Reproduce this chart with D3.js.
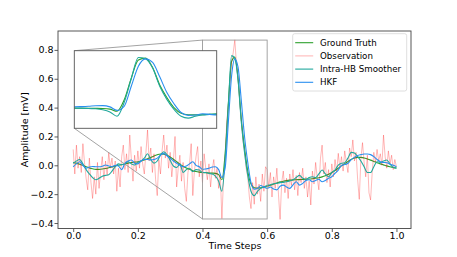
<!DOCTYPE html>
<html>
<head>
<meta charset="utf-8">
<script src="https://cdn.jsdelivr.net/npm/d3@7"></script>
<style>
  html, body { margin: 0; padding: 0; background: #fff; }
  svg { display: block; font-family: "DejaVu Sans", sans-serif; }
</style>
</head>
<body>
<svg id="chart" width="457" height="257"></svg>
<script>
// Series names, in legend order
const seriesNames = ["Ground Truth", "Observation", "Intra-HB Smoother", "HKF"];

// Estimates sampled every 0.01 time steps (101 values)
const groundTruth = [
  0.020, 0.015, 0.008, 0.000, -0.010, -0.018, -0.024, -0.028, -0.028, -0.026,
  -0.022, -0.017, -0.011, -0.005, 0.000, 0.005, 0.010, 0.015, 0.019, 0.022,
  0.025, 0.030, 0.037, 0.045, 0.055, 0.065, 0.073, 0.078, 0.077, 0.070,
  0.058, 0.042, 0.025, 0.008, -0.006, -0.018, -0.028, -0.037, -0.043, -0.047,
  -0.050, -0.052, -0.053, -0.054, -0.056, -0.065, -0.100, 0.080, 0.430, 0.720,
  0.750, 0.600, 0.320, 0.120, -0.040, -0.130, -0.155, -0.158, -0.155, -0.150,
  -0.145, -0.138, -0.130, -0.122, -0.115, -0.110, -0.106, -0.103, -0.101, -0.100,
  -0.099, -0.098, -0.097, -0.095, -0.093, -0.090, -0.086, -0.080, -0.072, -0.062,
  -0.050, -0.036, -0.020, -0.004, 0.012, 0.027, 0.040, 0.050, 0.055, 0.055,
  0.051, 0.044, 0.036, 0.027, 0.018, 0.010, 0.003, -0.004, -0.010, -0.015,
  -0.018
];

const smoother = [
  0.014, 0.030, 0.040, 0.010, -0.030, -0.060, -0.085, -0.100, -0.090, -0.075,
  -0.070, -0.065, -0.040, -0.010, 0.010, 0.005, 0.012, 0.025, 0.010, 0.002,
  0.020, 0.030, 0.050, 0.080, 0.040, 0.015, 0.030, 0.070, 0.094, 0.075,
  0.035, -0.005, -0.015, 0.010, -0.050, -0.030, -0.020, -0.044, -0.030, -0.033,
  -0.050, -0.050, -0.056, -0.060, -0.075, -0.110, -0.180, 0.040, 0.420, 0.760,
  0.740, 0.590, 0.300, 0.090, -0.070, -0.180, -0.210, -0.180, -0.160, -0.150,
  -0.140, -0.135, -0.128, -0.125, -0.120, -0.118, -0.114, -0.108, -0.100, -0.085,
  -0.070, -0.090, -0.097, -0.085, -0.079, -0.085, -0.060, -0.033, -0.060, -0.079,
  -0.050, -0.033, 0.002, 0.014, 0.018, 0.050, 0.090, 0.085, 0.060, 0.030,
  -0.010, -0.050, -0.050, -0.010, 0.025, 0.020, 0.030, 0.037, 0.010, -0.015,
  -0.020
];

const hkf = [
  -0.010, 0.010, 0.025, 0.000, -0.020, -0.012, -0.008, -0.010, -0.010, -0.006,
  0.002, -0.005, -0.010, 0.000, -0.005, -0.030, 0.014, 0.030, 0.037, 0.015,
  0.010, 0.030, 0.040, 0.040, 0.037, 0.040, 0.050, 0.070, 0.083, 0.065,
  0.049, 0.030, 0.014, 0.000, -0.010, -0.005, 0.010, 0.025, 0.000, -0.010,
  -0.028, -0.025, -0.020, -0.012, -0.010, -0.030, -0.085, -0.020, 0.300, 0.620,
  0.738, 0.680, 0.450, 0.200, 0.020, -0.120, -0.165, -0.160, -0.140, -0.150,
  -0.160, -0.150, -0.165, -0.170, -0.145, -0.137, -0.150, -0.160, -0.135, -0.114,
  -0.137, -0.125, -0.105, -0.100, -0.114, -0.105, -0.097, -0.114, -0.105, -0.090,
  -0.079, -0.055, -0.033, 0.000, 0.005, 0.014, 0.040, 0.055, 0.068, 0.074,
  0.078, 0.078, 0.074, 0.060, 0.040, 0.025, 0.020, 0.018, 0.008, 0.000,
  -0.010
];

// Noisy observation sampled every 0.005 time steps (201 values)
const observation = [
  0.11, -0.06, 0.14, -0.02, 0.06, -0.05, 0.15, 0.02, -0.09, -0.17,
  0.05, -0.12, -0.23, -0.08, -0.20, 0.02, -0.16, -0.04, 0.06, -0.10,
  0.03, -0.07, 0.09, -0.02, 0.05, -0.06, 0.03, -0.18, -0.02, -0.15,
  0.06, 0.14, -0.03, 0.08, -0.05, 0.21, 0.04, -0.11, 0.07, -0.04,
  0.10, -0.02, 0.13, 0.01, -0.06, 0.09, 0.245, 0.03, 0.12, -0.05,
  0.08, -0.10, -0.21, 0.04, -0.06, 0.10, 0.21, 0.05, 0.14, -0.02,
  0.09, -0.08, 0.03, 0.20, -0.15, -0.02, 0.07, -0.11, 0.02, -0.16,
  -0.25, -0.05, 0.01, 0.15, -0.21, -0.04, 0.06, 0.13, -0.08, 0.03,
  -0.12, 0.08, -0.02, -0.10, 0.01, -0.15, -0.03, 0.04, -0.09, -0.02,
  -0.16, -0.06, -0.37, -0.10, 0.05, 0.30, 0.42, 0.55, 0.72, 0.78,
  0.87, 0.70, 0.62, 0.44, 0.32, 0.17, 0.10, -0.02, -0.08, -0.22,
  -0.30, -0.12, -0.27, -0.08, -0.20, -0.13, -0.25, -0.06, -0.18, -0.01,
  -0.03, -0.15, -0.05, -0.22, -0.08, -0.16, -0.02, -0.20, -0.375, -0.12,
  -0.04, -0.19, -0.09, -0.23, -0.06, -0.14, -0.03, -0.17, -0.07, -0.21,
  -0.05, -0.12, -0.02, -0.16, -0.08, -0.22, -0.11, -0.275, -0.04, -0.13,
  0.02, -0.09, -0.17, 0.05, 0.14, -0.06, 0.02, -0.12, -0.03, -0.15,
  0.01, -0.08, 0.04, -0.05, 0.083, -0.02, 0.06, -0.04, 0.10, 0.02,
  -0.05, 0.12, 0.06, 0.176, 0.03, 0.09, -0.10, -0.236, 0.05, 0.157,
  0.02, -0.08, 0.07, -0.19, -0.24, -0.05, 0.09, 0.02, 0.11, 0.03,
  0.08, 0.00, 0.21, 0.06, -0.02, 0.10, 0.01, 0.07, -0.03, 0.04,
  -0.01
];

const xTicks = [0.0, 0.2, 0.4, 0.6, 0.8, 1.0];
const yTicks = [-0.4, -0.2, 0.0, 0.2, 0.4, 0.6, 0.8];
const zoomX = [0.4, 0.6];
const zoomY = [-0.372, 0.868];

const colors = ["#2ca02c", "red", "#20a89c", "#2a8ff0"];
const opacities = [1, 0.28, 1, 1];

function toPoints(values, step) {
    return values.map((v, i) => ({ t: i * step, v: v }));
}

const series = [
    toPoints(groundTruth, 0.01),
    toPoints(observation, 0.005),
    toPoints(smoother, 0.01),
    toPoints(hkf, 0.01)
];

const svg = d3.select("#chart");
const plot = { left: 58, right: 411, top: 31, bottom: 228.5 };
const inset = { left: 74.3, right: 216.7, top: 50.7, bottom: 128.3 };

const x = d3.scaleLinear().domain([-0.047, 1.045]).range([plot.left, plot.right]);
const y = d3.scaleLinear().domain([-0.438, 0.931]).range([plot.bottom, plot.top]);
const xi = d3.scaleLinear().domain(zoomX).range([inset.left, inset.right]);
const yi = d3.scaleLinear().domain(zoomY).range([inset.bottom, inset.top]);

const defs = svg.append("defs");
defs.append("clipPath").attr("id", "clipMain").append("rect")
    .attr("x", plot.left).attr("y", plot.top)
    .attr("width", plot.right - plot.left).attr("height", plot.bottom - plot.top);
defs.append("clipPath").attr("id", "clipInset").append("rect")
    .attr("x", inset.left).attr("y", inset.top)
    .attr("width", inset.right - inset.left).attr("height", inset.bottom - inset.top);

/* ------- MAIN LINES ------- */
const mainG = svg.append("g").attr("clip-path", "url(#clipMain)");
series.forEach((pts, i) => {
    const line = d3.line()
        .x(d => x(d.t)).y(d => y(d.v))
        .curve(i === 1 ? d3.curveLinear : d3.curveMonotoneX);
    mainG.append("path")
        .attr("d", line(pts))
        .attr("fill", "none")
        .attr("stroke", colors[i])
        .attr("stroke-opacity", opacities[i])
        .attr("stroke-width", i === 1 ? 1 : 1.1);
});

/* ------- ZOOM MARKER + CONNECTORS ------- */
const zx0 = x(zoomX[0]), zx1 = x(zoomX[1]);
const zy0 = y(zoomY[1]), zy1 = y(zoomY[0]);
svg.append("rect")
    .attr("x", zx0).attr("y", zy0)
    .attr("width", zx1 - zx0).attr("height", zy1 - zy0)
    .attr("fill", "none").attr("stroke", "#999").attr("stroke-width", 0.9);
svg.append("line")
    .attr("x1", inset.left).attr("y1", inset.top).attr("x2", zx0).attr("y2", zy0)
    .attr("stroke", "#999").attr("stroke-width", 0.9);
svg.append("line")
    .attr("x1", inset.left).attr("y1", inset.bottom).attr("x2", zx0).attr("y2", zy1)
    .attr("stroke", "#999").attr("stroke-width", 0.9);

/* ------- INSET ------- */
svg.append("rect")
    .attr("x", inset.left).attr("y", inset.top)
    .attr("width", inset.right - inset.left).attr("height", inset.bottom - inset.top)
    .attr("fill", "#fff");
const insetG = svg.append("g").attr("clip-path", "url(#clipInset)");
series.forEach((pts, i) => {
    if (i === 1) return; // observation is not shown in the inset
    const line = d3.line()
        .x(d => xi(d.t)).y(d => yi(d.v))
        .curve(d3.curveMonotoneX);
    insetG.append("path")
        .attr("d", line(pts.filter(d => d.t >= 0.38 && d.t <= 0.62)))
        .attr("fill", "none")
        .attr("stroke", colors[i])
        .attr("stroke-width", 1.1);
});
svg.append("rect")
    .attr("x", inset.left).attr("y", inset.top)
    .attr("width", inset.right - inset.left).attr("height", inset.bottom - inset.top)
    .attr("fill", "none").attr("stroke", "#555").attr("stroke-width", 0.9);

/* ------- AXES ------- */
const fmt = d3.format(".1f");
const xAxis = svg.append("g")
    .attr("transform", "translate(0," + plot.bottom + ")")
    .call(d3.axisBottom(x).tickValues(xTicks).tickFormat(fmt).tickSize(3.5).tickPadding(0.5));
const yAxis = svg.append("g")
    .attr("transform", "translate(" + plot.left + ",0)")
    .call(d3.axisLeft(y).tickValues(yTicks).tickFormat(fmt).tickSize(3.5).tickPadding(1));
[xAxis, yAxis].forEach(g => {
    g.select(".domain").remove();
    g.selectAll(".tick line").attr("stroke", "#333").attr("stroke-width", 0.8);
    g.selectAll(".tick text")
        .attr("fill", "#000")
        .style("font-family", "DejaVu Sans")
        .style("font-size", "9.5px");
});

svg.append("rect")
    .attr("x", plot.left).attr("y", plot.top)
    .attr("width", plot.right - plot.left).attr("height", plot.bottom - plot.top)
    .attr("fill", "none").attr("stroke", "#444").attr("stroke-width", 0.9);

svg.append("text")
    .attr("x", (plot.left + plot.right) / 2 + 0.5)
    .attr("y", 248.5)
    .attr("text-anchor", "middle")
    .style("font-size", "9.5px")
    .attr("fill", "#000")
    .text("Time Steps");

svg.append("text")
    .attr("transform", "translate(28," + (plot.top + plot.bottom) / 2 + ") rotate(-90)")
    .attr("text-anchor", "middle")
    .style("font-size", "9.5px")
    .attr("fill", "#000")
    .text("Amplitude [mV]");

/* ------- LEGEND ------- */
const legend = svg.append("g").attr("transform", "translate(292.7,33.7)");
legend.append("rect")
    .attr("width", 114).attr("height", 57.3)
    .attr("rx", 2)
    .attr("fill", "#fff").attr("fill-opacity", 0.8)
    .attr("stroke", "#d6d6d6").attr("stroke-width", 0.8);
seriesNames.forEach((name, i) => {
    const cy = 9 + i * 13.2;
    legend.append("line")
        .attr("x1", 2.5).attr("x2", 20.5)
        .attr("y1", cy).attr("y2", cy)
        .attr("stroke", colors[i])
        .attr("stroke-opacity", opacities[i])
        .attr("stroke-width", 1.1);
    legend.append("text")
        .attr("x", 27.3).attr("y", cy + 3.1)
        .style("font-size", "8.7px")
        .attr("fill", "#000")
        .text(name);
});
</script>
</body>
</html>
